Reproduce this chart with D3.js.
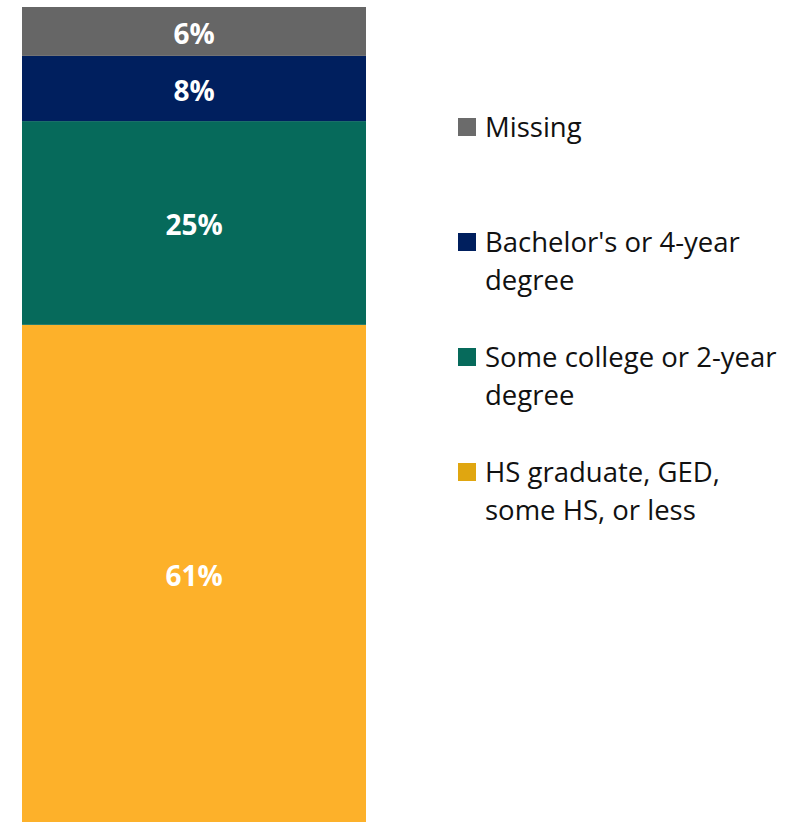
<!DOCTYPE html>
<html>
<head>
<meta charset="utf-8">
<script src="https://cdn.jsdelivr.net/npm/d3@7"></script>
<style>
  html, body { margin: 0; padding: 0; background: #ffffff; }
  svg { display: block; font-family: "Open Sans", "Noto Sans", sans-serif; }
</style>
</head>
<body>
<svg id="chart" width="804" height="822"></svg>
<script>
// Education level shares (percent), bottom to top of the stacked bar
const categories = [
  "HS graduate, GED, some HS, or less",
  "Some college or 2-year degree",
  "Bachelor's or 4-year degree",
  "Missing"
];
const values = [61, 25, 8, 6];
const barColors = ["#fdb12a", "#066a5b", "#001f5e", "#666666"];
const legendColors = ["#e0a610", "#066a5b", "#001f5e", "#6b6b6b"];
// Legend entries, top to bottom, with their wrapped lines
const legendOrder = [3, 2, 1, 0];
const legendLines = [
  ["Missing"],
  ["Bachelor's or 4-year", "degree"],
  ["Some college or 2-year", "degree"],
  ["HS graduate, GED,", "some HS, or less"]
];

const svg = d3.select("#chart");

const row = {};
categories.forEach((c, i) => row[c] = values[i]);
const series = d3.stack().keys(categories)([row]);

const x = d3.scaleBand().domain(["all"]).range([22, 366]).padding(0);
const y = d3.scaleLinear().domain([0, 100]).range([822, 7]);

const seg = svg.append("g").selectAll("g")
  .data(series)
  .join("g");

seg.append("rect")
  .attr("x", x("all"))
  .attr("width", x.bandwidth())
  .attr("y", d => y(d[0][1]))
  .attr("height", d => y(d[0][0]) - y(d[0][1]))
  .attr("fill", (d, i) => barColors[i]);

seg.append("text")
  .attr("x", x("all") + x.bandwidth() / 2)
  .attr("y", d => (y(d[0][0]) + y(d[0][1])) / 2 + 2.5)
  .attr("dy", "0.35em")
  .attr("text-anchor", "middle")
  .attr("fill", "#ffffff")
  .attr("font-weight", "bold")
  .attr("font-size", 28)
  .text((d, i) => values[i] + "%");

// Legend
const legendTop = 118, legendStep = 115, lineStep = 37.5;
const leg = svg.append("g").selectAll("g")
  .data(legendOrder)
  .join("g")
  .attr("transform", (d, i) => `translate(458, ${legendTop + i * legendStep})`);

leg.append("rect")
  .attr("width", 18)
  .attr("height", 18)
  .attr("fill", d => legendColors[d]);

leg.append("text")
  .attr("x", 27)
  .attr("font-size", 27.5)
  .attr("fill", "#111111")
  .selectAll("tspan")
  .data((d, i) => legendLines[i])
  .join("tspan")
  .attr("x", 27)
  .attr("y", (t, j) => 19 + j * lineStep)
  .text(t => t);
</script>
</body>
</html>
